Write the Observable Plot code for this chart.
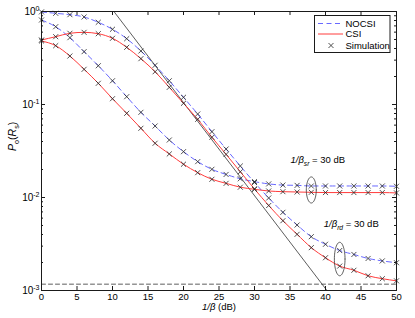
<!DOCTYPE html>
<html><head><meta charset="utf-8">
<script src="https://cdn.jsdelivr.net/npm/d3@7"></script>
<script src="https://cdn.jsdelivr.net/npm/@observablehq/plot@0.6"></script>
<style>
html,body{margin:0;padding:0;background:#fff;}
#wrap{position:relative;width:415px;height:318px;font-family:"Liberation Sans",Arial,Helvetica,sans-serif;}
#wrap svg.overlay{position:absolute;left:0;top:0;pointer-events:none;}
</style></head><body><div id="wrap"></div>
<script>
// ---- data ----
const snr = [0,2,4,6,8,10,12,14,16,18,20,22,24,26,28,30,32,34,36,38,40,42,44,46,48,50];
// 1/beta_rd = 30 dB pair (steep curves)
const nocsiRd = [0.99,0.956,0.924,0.873,0.765,0.644,0.510,0.376,0.264,0.180,0.1195,0.0790,0.0510,0.0332,0.0218,0.0145,0.00988,0.00693,0.00506,0.00379,0.00314,0.00269,0.00244,0.00221,0.00208,0.00199];
const csiRd   = [0.494,0.536,0.583,0.597,0.577,0.515,0.412,0.311,0.225,0.153,0.103,0.0693,0.0444,0.0291,0.0189,0.01234,0.0082,0.00563,0.00402,0.00289,0.00225,0.00183,0.00165,0.00144,0.00134,0.00127];
// 1/beta_sr = 30 dB pair
const nocsiSr = [0.81,0.686,0.523,0.370,0.261,0.180,0.1213,0.0824,0.0587,0.0415,0.0311,0.0243,0.0201,0.0177,0.0159,0.0148,0.0140,0.0136,0.0135,0.0133,0.0133,0.0133,0.0133,0.0133,0.0133,0.0132];
const csiSr   = [0.482,0.429,0.332,0.239,0.169,0.1154,0.0804,0.0555,0.0383,0.0294,0.0228,0.0185,0.0157,0.0142,0.0129,0.01225,0.01175,0.01155,0.01146,0.01137,0.0113,0.0113,0.0113,0.0113,0.0113,0.0112];

const asymX = [10.2, 40.2];
const asymY = [1, 0.001];
const floorX = [0, 50];
const floorY = [0.00117, 0.00117];

const xTicks = [0,5,10,15,20,25,30,35,40,45,50];
const yTicks = [1,0.1,0.01,0.001];
const yTickLabels = ["10^{0}","10^{-1}","10^{-2}","10^{-3}"];
const xLabel = "*1/β* (dB)";
const yLabel = "*P*_{o}(*R*_{s})";
const legendNames = ["NOCSI","CSI","Simulation"];

const annotX = [35.07, 39.76];
const annotY = [0.0253, 0.00519];
const annotText = ["*1/β*_{*sr*} = 30 dB", "*1/β*_{*rd*} = 30 dB"];
const ellX = [38, 42];
const ellY = [0.01205, 0.00218];
const ellRx = [0.7, 0.75];   // dB
const ellRy = [0.14, 0.18];  // decades

// ---- build tables ----
const curveDefs = [
  {name: "nocsiRd", type: "NOCSI", values: nocsiRd},
  {name: "csiRd", type: "CSI", values: csiRd},
  {name: "nocsiSr", type: "NOCSI", values: nocsiSr},
  {name: "csiSr", type: "CSI", values: csiSr}
];
const pts = curveDefs.flatMap(c => snr.map((x, i) => ({x, y: c.values[i], curve: c.name, type: c.type})));
const asym = asymX.map((x, i) => ({x, y: asymY[i]}));
const floorLine = floorX.map((x, i) => ({x, y: floorY[i]}));
const ellPts = ellX.flatMap((cx, k) => d3.range(0, 65).map(j => {
  const t = j / 64 * 2 * Math.PI;
  return {id: k, x: cx + ellRx[k] * Math.cos(t), y: ellY[k] * Math.pow(10, ellRy[k] * Math.sin(t))};
}));
const annots = annotX.map((x, i) => ({x, y: annotY[i], text: annotText[i]}));
const yMinor = d3.scaleLog().domain([1e-3, 1]).ticks().filter(v => !yTicks.some(t => Math.abs(t - v) / v < 1e-9));

const W = 415, H = 318, mT = 11, mR = 19, mB = 28, mL = 41;
const fw = W - mL - mR, fh = H - mT - mB;
const BLUE = "#6868ff", RED = "#ff3c3c", MARK = "#262626", AX = "#1a1a1a";
const FONT = '"Liberation Sans", Arial, Helvetica, sans-serif';

const chart = Plot.plot({
  width: W, height: H,
  marginTop: mT, marginRight: mR, marginBottom: mB, marginLeft: mL,
  style: {fontFamily: FONT, fontSize: "9.5px", background: "white", overflow: "visible"},
  x: {domain: [0, 50], axis: null},
  y: {type: "log", domain: [1e-3, 1], axis: null},
  marks: [
    Plot.line(floorLine, {x: "x", y: "y", stroke: "#333", strokeWidth: 0.8, strokeDasharray: "4,3"}),
    Plot.line(asym, {x: "x", y: "y", stroke: "#333", strokeWidth: 0.8}),
    Plot.line(pts.filter(d => d.type === "NOCSI"), {x: "x", y: "y", z: "curve", stroke: BLUE, strokeWidth: 1, strokeDasharray: "5,3.5", curve: "monotone-x"}),
    Plot.line(pts.filter(d => d.type === "CSI"), {x: "x", y: "y", z: "curve", stroke: RED, strokeWidth: 1, curve: "monotone-x"}),
    Plot.dot(pts, {x: "x", y: "y", symbol: "times", r: 2.4, stroke: MARK, strokeWidth: 0.8, fill: "none"}),
    Plot.line(ellPts, {x: "x", y: "y", z: "id", stroke: "#333", strokeWidth: 0.8}),
    Plot.text(annots, {x: "x", y: "y", text: "text", textAnchor: "start", fill: "#000", fontSize: 9.5}),
    Plot.frame({stroke: AX, strokeWidth: 1}),
    // inward ticks
    Plot.tickX(xTicks, {x: d => d, insetTop: fh - 4, stroke: AX}),
    Plot.tickX(xTicks, {x: d => d, insetBottom: fh - 4, stroke: AX}),
    Plot.tickY(yTicks, {y: d => d, insetRight: fw - 4, stroke: AX}),
    Plot.tickY(yTicks, {y: d => d, insetLeft: fw - 4, stroke: AX}),
    Plot.tickY(yMinor, {y: d => d, insetRight: fw - 2, stroke: AX}),
    Plot.tickY(yMinor, {y: d => d, insetLeft: fw - 2, stroke: AX}),
    // tick labels
    Plot.text(xTicks, {x: d => d, frameAnchor: "bottom", dy: 9.5, text: d => String(d), fill: "#000"}),
    Plot.text(yTicks, {y: d => d, frameAnchor: "left", dx: -2, textAnchor: "end", text: (d, i) => yTickLabels[i], fill: "#000", fontSize: 10}),
    // axis labels
    Plot.text([xLabel], {frameAnchor: "bottom", dy: 19.5, text: d => d, fill: "#000"}),
    Plot.text([yLabel], {frameAnchor: "left", dx: -29, rotate: -90, text: d => d, fill: "#000", fontSize: 10.5})
  ]
});

// rich text: *italic*, _{sub}, ^{sup}
function parseMarkup(s) {
  const segs = []; let italic = false, mode = "n", buf = "";
  const flush = () => { if (buf) segs.push({text: buf, italic, mode}); buf = ""; };
  for (let i = 0; i < s.length; i++) {
    const c = s[i];
    if (c === "*") { flush(); italic = !italic; }
    else if ((c === "_" || c === "^") && s[i + 1] === "{") { flush(); mode = c === "_" ? "sub" : "sup"; i++; }
    else if (c === "}") { flush(); mode = "n"; }
    else buf += c;
  }
  flush();
  return segs;
}
d3.select(chart).selectAll("text").each(function () {
  const s = this.textContent;
  if (!/[*{}]/.test(s)) return;
  const segs = parseMarkup(s);
  this.textContent = "";
  let prev = 0;
  for (const g of segs) {
    const scale = g.mode === "n" ? 1 : 0.7;
    const target = g.mode === "sub" ? 0.28 : g.mode === "sup" ? -0.42 : 0;
    const ts = d3.select(this).append("tspan").text(g.text);
    if (target !== prev) ts.attr("dy", ((target - prev) / scale).toFixed(3) + "em");
    if (scale !== 1) ts.attr("font-size", "70%");
    if (g.italic) ts.attr("font-style", "italic");
    prev = target;
  }
});

const wrap = document.getElementById("wrap");
wrap.appendChild(chart);

// legend (inside plot, top-right)
const lg = d3.create("svg").attr("class", "overlay").attr("width", W).attr("height", H);
lg.append("rect").attr("x", 314.5).attr("y", 15.5).attr("width", 75.5).attr("height", 37)
  .attr("fill", "white").attr("stroke", AX).attr("stroke-width", 1);
const rowsY = [23.5, 34, 45.5];
legendNames.forEach((name, i) => {
  const y = rowsY[i];
  if (i === 0) lg.append("line").attr("x1", 318).attr("x2", 343).attr("y1", y).attr("y2", y).attr("stroke", BLUE).attr("stroke-dasharray", "5,3.5");
  if (i === 1) lg.append("line").attr("x1", 318).attr("x2", 343).attr("y1", y).attr("y2", y).attr("stroke", RED);
  if (i === 2) lg.append("path").attr("d", d3.symbol(d3.symbolTimes, 2.4 * 2.4 * Math.PI)()).attr("transform", `translate(331,${y})`).attr("stroke", MARK).attr("stroke-width", 0.8).attr("fill", "none");
  lg.append("text").attr("x", 345.5).attr("y", y).attr("dy", "0.35em").attr("font-size", 9.5).attr("fill", "#000")
    .attr("font-family", FONT).text(name);
});
wrap.appendChild(lg.node());
</script>
</body></html>
